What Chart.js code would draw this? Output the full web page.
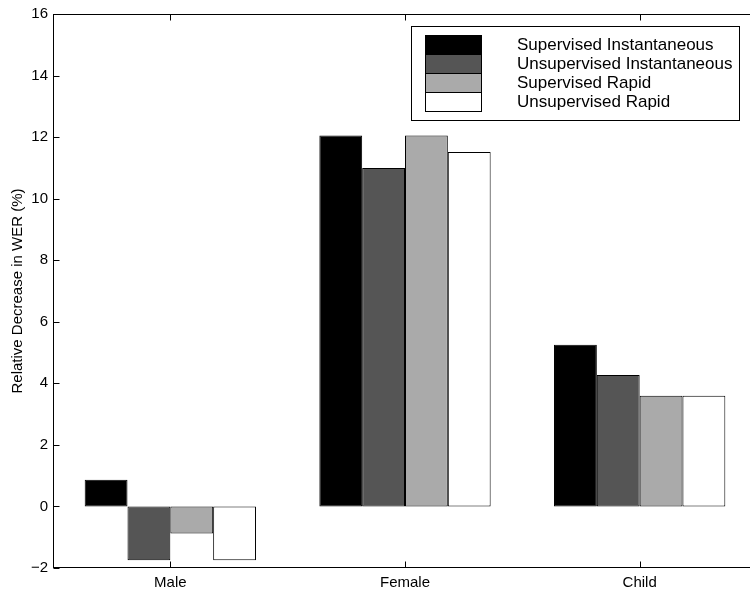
<!DOCTYPE html>
<html>
<head>
<meta charset="utf-8">
<script src="https://cdn.jsdelivr.net/npm/chart.js@4.4.1/dist/chart.umd.min.js"></script>
<style>
  html, body { margin: 0; padding: 0; background: #fff; overflow: hidden; }
  #wrap { width: 750px; height: 592px; overflow: hidden; }
</style>
</head>
<body>
<div id="wrap"><canvas id="graph" width="760" height="592"></canvas></div>
<script>
// categories and series (relative decrease in WER, %)
const groups = ['Male', 'Female', 'Child'];
const seriesNames = ['Supervised Instantaneous', 'Unsupervised Instantaneous', 'Supervised Rapid', 'Unsupervised Rapid'];
const supInst = [0.87, 12.05, 5.25];
const unsupInst = [-1.75, 11.0, 4.27];
const supRapid = [-0.88, 12.05, 3.6];
const unsupRapid = [-1.75, 11.52, 3.6];
const yMin = -2, yMax = 16, yStep = 2;

const fills = ['#000000', '#555555', '#aaaaaa', '#ffffff'];
const font = 'Liberation Sans, Arial, Helvetica, sans-serif';

// matlab style box + inward ticks
const frame = {
    id: 'frame',
    afterDraw(chart) {
        const { ctx, chartArea: a, scales: { x, y } } = chart;
        const L = Math.round(a.left) + 0.5, R = Math.round(a.right) - 0.5;
        const T = Math.round(a.top) + 0.5, B = Math.round(a.bottom) - 0.5;
        ctx.save();
        ctx.strokeStyle = '#000';
        ctx.lineWidth = 1;
        ctx.strokeRect(L, T, R - L, B - T);
        ctx.beginPath();
        y.ticks.forEach(t => {
            const py = Math.round(y.getPixelForValue(t.value)) + 0.5;
            ctx.moveTo(L, py); ctx.lineTo(L + 6, py);
            ctx.moveTo(R, py); ctx.lineTo(R - 6, py);
        });
        groups.forEach((g, i) => {
            const px = Math.round(x.getPixelForValue(i)) + 0.5;
            ctx.moveTo(px, B); ctx.lineTo(px, B - 6);
            ctx.moveTo(px, T); ctx.lineTo(px, T + 6);
        });
        ctx.stroke();

        // legend box inside the axes
        ctx.fillStyle = '#fff';
        ctx.fillRect(411, 26, 329, 95);
        ctx.strokeRect(411.5, 26.5, 328, 94);
        ctx.font = '17px ' + font;
        ctx.textBaseline = 'middle';
        chart.data.datasets.forEach((ds, i) => {
            const top = 35 + i * 19;
            ctx.fillStyle = ds.backgroundColor;
            ctx.fillRect(425, top, 57, 19);
            ctx.strokeRect(425.5, top + 0.5, 56, 19);
            ctx.fillStyle = '#000';
            ctx.fillText(ds.label, 517, top + 10);
        });
        ctx.restore();
    }
};

const seriesData = [supInst, unsupInst, supRapid, unsupRapid];

new Chart(document.getElementById('graph'), {
    type: 'bar',
    data: {
        labels: groups,
        datasets: seriesData.map((vals, i) => ({
            label: seriesNames[i],
            data: vals,
            backgroundColor: fills[i],
            borderColor: '#000',
            borderWidth: 1,
            borderSkipped: false,
            categoryPercentage: 0.73,
            barPercentage: 1.0
        }))
    },
    options: {
        responsive: false,
        animation: false,
        devicePixelRatio: 1,
        layout: { padding: { top: 13, right: 3, left: 0, bottom: 0 } },
        plugins: {
            legend: { display: false },
            tooltip: { enabled: false }
        },
        scales: {
            x: {
                grid: { display: false, drawTicks: false },
                border: { display: false },
                ticks: { color: '#000', padding: 6, font: { family: font, size: 15 } },
                afterFit: s => { s.height = 24; }
            },
            y: {
                min: yMin,
                max: yMax,
                grid: { display: false, drawTicks: false },
                border: { display: false },
                ticks: {
                    stepSize: yStep,
                    color: '#000',
                    padding: 5,
                    font: { family: font, size: 15 },
                    callback: v => (v < 0 ? '\u2212' + Math.abs(v) : '' + v)
                },
                title: {
                    display: true,
                    text: 'Relative Decrease in WER (%)',
                    color: '#000',
                    padding: { top: 9, bottom: 0 },
                    font: { family: font, size: 15 }
                },
                afterFit: s => { s.width = 53; }
            }
        }
    },
    plugins: [frame]
});
</script>
</body>
</html>
